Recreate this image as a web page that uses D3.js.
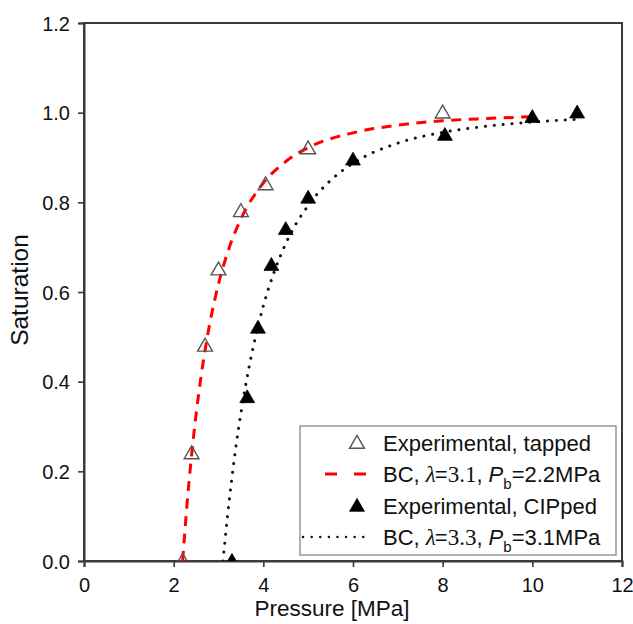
<!DOCTYPE html>
<html>
<head>
<meta charset="utf-8">
<script src="https://cdn.jsdelivr.net/npm/d3@7"></script>
<style>
  html, body { margin: 0; padding: 0; background: #fff; }
  svg { display: block; }
  text { font-family: "Liberation Sans", Arial, sans-serif; fill: #111; }
</style>
</head>
<body>
<script>
// ---- data ----
const xTicks = [0, 2, 4, 6, 8, 10, 12];
const yTicks = [0.0, 0.2, 0.4, 0.6, 0.8, 1.0, 1.2];

const tappedP = [2.2, 2.4, 2.7, 3.0, 3.5, 4.05, 5.0, 8.0];
const tappedS = [0.0, 0.24, 0.48, 0.65, 0.78, 0.84, 0.92, 1.0];

const cippedP = [3.3, 3.64, 3.88, 4.18, 4.5, 5.0, 6.0, 8.05, 10.0, 11.0];
const cippedS = [0.0, 0.365, 0.52, 0.66, 0.74, 0.81, 0.895, 0.95, 0.99, 1.0];

// BC fit curve, λ=3.1, Pb=2.2 MPa
const bcTappedP = [2.2, 2.3, 2.4, 2.5, 2.6, 2.8, 3.0, 3.25, 3.5, 4.0, 4.5, 5.0, 6.0, 7.0, 8.0, 9.0, 10.0];
const bcTappedS = [0.0, 0.129, 0.236, 0.327, 0.404, 0.527, 0.618, 0.702, 0.763, 0.843, 0.891, 0.922, 0.955, 0.972, 0.982, 0.987, 0.991];

// BC fit curve, λ=3.3, Pb=3.1 MPa
const bcCippedP = [3.1, 3.2, 3.3, 3.4, 3.5, 3.75, 4.0, 4.25, 4.5, 5.0, 5.5, 6.0, 7.0, 8.0, 9.0, 10.0, 11.0];
const bcCippedS = [0.0, 0.099, 0.186, 0.263, 0.330, 0.466, 0.569, 0.647, 0.708, 0.793, 0.849, 0.887, 0.932, 0.956, 0.970, 0.979, 0.985];

// ---- layout ----
const W = 633, H = 624;
const L = 84, R = 622, T = 23, B = 561;

const svg = d3.select("body").append("svg").attr("width", W).attr("height", H);

const x = d3.scaleLinear().domain([0, 12]).range([L, R]);
const y = d3.scaleLinear().domain([0, 1.2]).range([B, T]);

svg.append("defs").append("clipPath").attr("id", "plotclip")
  .append("rect").attr("x", L).attr("y", T).attr("width", R - L).attr("height", B - T);

// frame
svg.append("rect").attr("x", L).attr("y", T).attr("width", R - L).attr("height", B - T)
  .attr("fill", "none").attr("stroke", "#3a3a3a").attr("stroke-width", 2);

// axes
const xAxis = svg.append("g").attr("transform", `translate(0,${B})`)
  .call(d3.axisBottom(x).tickValues(xTicks).tickFormat(d3.format("d")).tickSize(6).tickPadding(11));
const yAxis = svg.append("g").attr("transform", `translate(${L},0)`)
  .call(d3.axisLeft(y).tickValues(yTicks).tickFormat(d3.format(".1f")).tickSize(6).tickPadding(8));
[xAxis, yAxis].forEach(g => {
  g.select(".domain").attr("stroke", "#3a3a3a").attr("stroke-width", 2);
  g.selectAll(".tick line").attr("stroke", "#3a3a3a").attr("stroke-width", 1.6);
  g.selectAll(".tick text").attr("font-size", 20).attr("fill", "#111")
    .attr("font-family", "'Liberation Sans', Arial, sans-serif");
});
yAxis.selectAll(".tick text").attr("dy", "0.36em");

// axis titles
svg.append("text").attr("x", 332).attr("y", 616).attr("text-anchor", "middle")
  .attr("font-size", 22.5).text("Pressure [MPa]");
svg.append("text").attr("transform", "translate(28,290) rotate(-90)").attr("text-anchor", "middle")
  .attr("font-size", 24.5).text("Saturation");

// curves
const line = d3.line().x(d => x(d[0])).y(d => y(d[1])).curve(d3.curveMonotoneX);
const plot = svg.append("g").attr("clip-path", "url(#plotclip)");

plot.append("path").datum(d3.zip(bcCippedP, bcCippedS)).attr("d", line)
  .attr("fill", "none").attr("stroke", "#111").attr("stroke-width", 3)
  .attr("stroke-linecap", "round").attr("stroke-dasharray", "0.1 8.8");

plot.append("path").datum(d3.zip(bcTappedP, bcTappedS)).attr("d", line)
  .attr("fill", "none").attr("stroke", "#ff0000").attr("stroke-width", 3)
  .attr("stroke-dasharray", "10 7.5");

// markers
const tri = d3.symbol().type(d3.symbolTriangle).size(95);
plot.selectAll(".open").data(d3.zip(tappedP, tappedS)).join("path")
  .attr("d", tri).attr("transform", d => `translate(${x(d[0])},${y(d[1]) + 1})`)
  .attr("fill", "none").attr("stroke", "#555").attr("stroke-width", 1.4);
plot.selectAll(".fill").data(d3.zip(cippedP, cippedS)).join("path")
  .attr("d", tri).attr("transform", d => `translate(${x(d[0])},${y(d[1]) + 1})`)
  .attr("fill", "#000").attr("stroke", "#000").attr("stroke-width", 0.8);

// legend
const lg = svg.append("g");
lg.append("rect").attr("x", 300).attr("y", 426).attr("width", 316).attr("height", 129)
  .attr("fill", "#fff").attr("stroke", "#888").attr("stroke-width", 1.3);

const rows = [443, 474, 506, 537];
const tx = 383;
lg.append("path").attr("d", tri).attr("transform", `translate(357,${rows[0] + 1})`)
  .attr("fill", "none").attr("stroke", "#555").attr("stroke-width", 1.4);
lg.append("line").attr("x1", 325).attr("x2", 366).attr("y1", rows[1]).attr("y2", rows[1])
  .attr("stroke", "#ff0000").attr("stroke-width", 3).attr("stroke-dasharray", "12 17");
lg.append("path").attr("d", tri).attr("transform", `translate(357,${rows[2] + 1})`)
  .attr("fill", "#000").attr("stroke", "#000").attr("stroke-width", 0.8);
lg.append("line").attr("x1", 303).attr("x2", 368).attr("y1", rows[3]).attr("y2", rows[3])
  .attr("stroke", "#111").attr("stroke-width", 2.4).attr("stroke-linecap", "round")
  .attr("stroke-dasharray", "0.1 8.5");

function plainLabel(yy, s) {
  lg.append("text").attr("x", tx).attr("y", yy + 8).attr("font-size", 22).text(s);
}
function bcLabel(yy, lam, pb) {
  const t = lg.append("text").attr("x", tx).attr("y", yy + 8).attr("font-size", 22);
  t.append("tspan").text("BC, ");
  t.append("tspan").attr("font-family", "'Liberation Serif', 'Times New Roman', serif")
    .attr("font-style", "italic").attr("font-size", 23).text("λ");
  t.append("tspan").attr("dx", -1).text("=");
  t.append("tspan").attr("font-family", "'Liberation Serif', 'Times New Roman', serif")
    .attr("font-size", 23).text(lam);
  t.append("tspan").text(", ");
  t.append("tspan").attr("font-style", "italic").text("P");
  t.append("tspan").attr("font-size", 15).attr("dy", 7).text("b");
  t.append("tspan").attr("dy", -7).text("=" + pb + "MPa");
}
plainLabel(rows[0], "Experimental, tapped");
bcLabel(rows[1], "3.1", "2.2");
plainLabel(rows[2], "Experimental, CIPped");
bcLabel(rows[3], "3.3", "3.1");
</script>
</body>
</html>
